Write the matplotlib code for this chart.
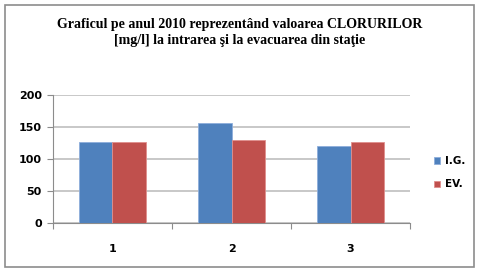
import matplotlib.pyplot as plt
import numpy as np
from matplotlib.patches import Rectangle

# date
categories = ['1', '2', '3']
ig_values = [127, 157, 121]
ev_values = [126, 130, 127]
series_names = ['I.G.', 'EV.']

fig = plt.figure(figsize=(4.8, 2.72), dpi=100)
fig.patch.set_facecolor('white')

# chenar exterior
fig.patches.append(Rectangle((0.0104, 0.02), 0.977, 0.962, transform=fig.transFigure,
                             fill=False, edgecolor='#8c8c8c', linewidth=1.2))

ax = fig.add_axes([0.1104, 0.1801, 0.7438, 0.4706])

x = np.arange(len(categories)) + 0.5
w = 0.285
b1 = ax.bar(x - w / 2, ig_values, w, color='#4F81BD', edgecolor='#8eaedb',
            linewidth=0.6, label=series_names[0], zorder=3)
b2 = ax.bar(x + w / 2, ev_values, w, color='#C0504D', edgecolor='#df8f8d',
            linewidth=0.6, label=series_names[1], zorder=3)

ax.set_xlim(0, 3)
ax.set_ylim(0, 200)
ax.set_yticks(range(0, 201, 50))
ax.set_xticks([0, 1, 2, 3])
ax.set_xticklabels([])
ax.set_xticks(x, minor=True)
ax.set_xticklabels(categories, minor=True)
ax.tick_params(axis='x', which='major', direction='out', length=4, color='#8c8c8c')
ax.tick_params(axis='x', which='minor', length=0, pad=15)
ax.tick_params(axis='y', direction='out', length=4, color='#8c8c8c', pad=4)
for lab in ax.get_xticklabels(minor=True) + ax.get_yticklabels():
    lab.set_fontweight('bold')
    lab.set_fontsize(8)
    lab.set_fontfamily('DejaVu Sans')

ax.grid(axis='y', color='#bfbfbf', linewidth=1.2, zorder=0)
for s in ['top', 'right']:
    ax.spines[s].set_visible(False)
ax.spines['left'].set_color('#8c8c8c')
ax.spines['bottom'].set_color('#8c8c8c')

fig.text(0.5, 0.935, 'Graficul pe anul 2010 reprezentând valoarea CLORURILOR\n'
         '[mg/l] la intrarea şi la evacuarea din staţie',
         ha='center', va='top', fontsize=10, fontweight='bold',
         family='Liberation Serif', linespacing=1.3)

leg = fig.legend(handles=[b1, b2], loc='center left', bbox_to_anchor=(0.885, 0.365),
                 frameon=False, handlelength=0.6, handleheight=0.6, handletextpad=0.4,
                 labelspacing=1.3, prop={'family': 'DejaVu Sans', 'weight': 'bold', 'size': 7.5})

fig.savefig('out.png', dpi=100, facecolor='white')
